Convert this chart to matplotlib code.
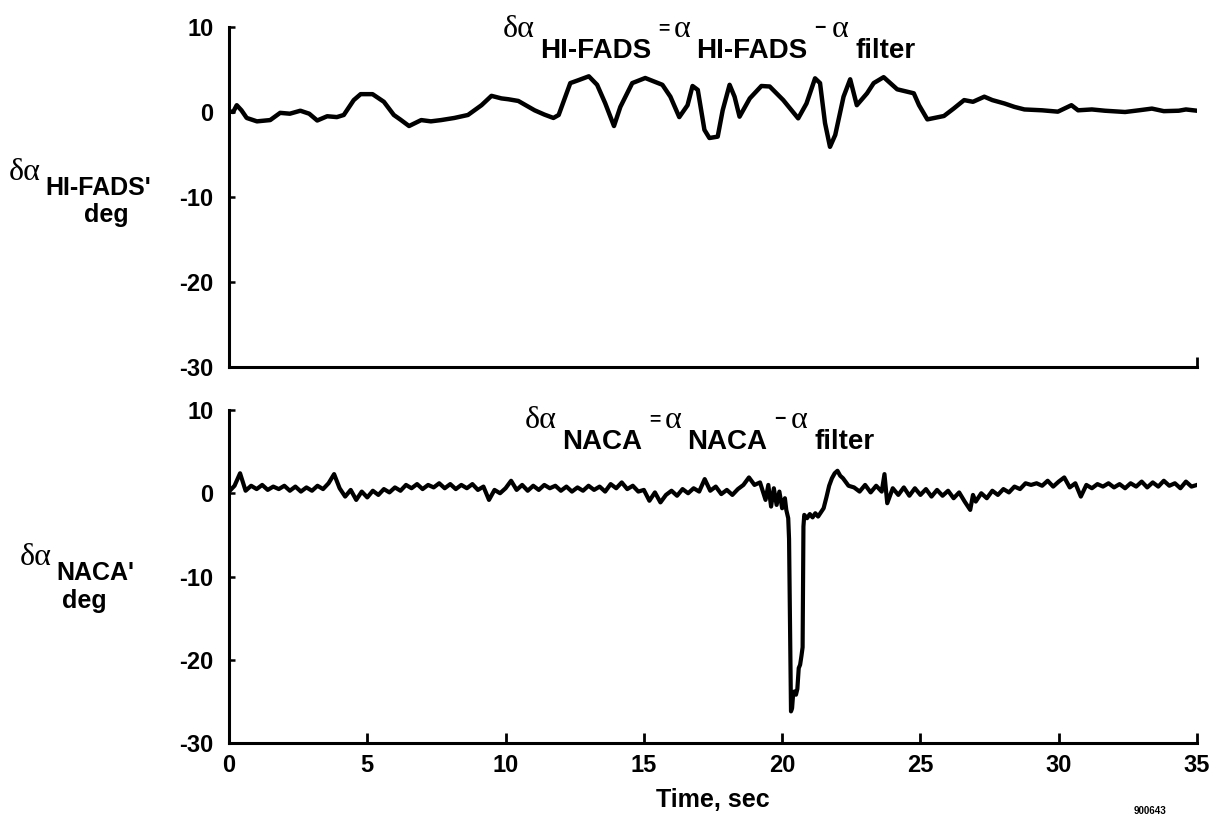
import matplotlib

matplotlib.use('Agg')

import matplotlib.pyplot as plt

# HI-FADS residual
t_fads = [0.0, 0.15, 0.28, 0.45, 0.64, 1.01, 1.49, 1.85, 2.2, 2.58, 2.9, 3.19, 3.55, 3.9, 4.15,
          4.51, 4.76, 5.19, 5.6, 5.96, 6.2, 6.51, 6.95, 7.3, 7.67, 8.15, 8.64, 9.13, 9.49, 9.85,
          10.1, 10.46, 11.05, 11.4, 11.73, 11.92, 12.34, 12.64, 13.01, 13.31, 13.6, 13.92, 14.15,
          14.58, 15.05, 15.67, 15.96, 16.28, 16.58, 16.76, 16.95, 17.19, 17.37, 17.67, 17.85,
          18.1, 18.28, 18.46, 18.83, 19.25, 19.55, 20.04, 20.58, 20.88, 21.19, 21.37, 21.55,
          21.73, 21.92, 22.22, 22.46, 22.7, 23.07, 23.31, 23.67, 24.16, 24.76, 24.95, 25.25,
          25.85, 26.2, 26.58, 26.9, 27.31, 27.6, 28.04, 28.4, 28.76, 29.4, 29.97, 30.46, 30.7,
          31.2, 31.67, 32.4, 32.9, 33.37, 33.8, 34.34, 34.6, 35.0]
v_fads = [0.1, 0.0, 0.8, 0.2, -0.7, -1.1, -0.95, -0.1, -0.2, 0.15, -0.2, -1.0, -0.5, -0.6, -0.35,
          1.4, 2.1, 2.1, 1.2, -0.35, -0.9, -1.65, -0.95, -1.1, -0.95, -0.7, -0.35, 0.8, 1.9, 1.6,
          1.5, 1.3, 0.2, -0.3, -0.7, -0.35, 3.4, 3.75, 4.2, 3.2, 1.05, -1.65, 0.6,
          3.4, 4.0, 3.2, 1.8, -0.6, 0.8, 3.06, 2.6, -2.1, -3.06, -2.9, 0.2,
          3.2, 1.8, -0.55, 1.6, 3.06, 3.0, 1.4, -0.75, 1.0, 3.96, 3.4, -1.3,
          -4.1, -2.7, 1.8, 3.85, 0.8, 2.2, 3.4, 4.1, 2.67, 2.2, 0.8, -0.87,
          -0.47, 0.4, 1.4, 1.2, 1.8, 1.4, 1.0, 0.6, 0.3, 0.2, 0.04, 0.8, 0.2,
          0.3, 0.15, 0.0, 0.2, 0.4, 0.1, 0.15, 0.3, 0.15]

# NACA residual
t_naca = [0.0, 0.2, 0.4, 0.6, 0.8, 1.0, 1.2, 1.4, 1.6, 1.8,
          2.0, 2.2, 2.4, 2.6, 2.8, 3.0, 3.2, 3.4, 3.6, 3.8,
          4.0, 4.2, 4.4, 4.6, 4.8, 5.0, 5.2, 5.4, 5.6, 5.8,
          6.0, 6.2, 6.4, 6.6, 6.8, 7.0, 7.2, 7.4, 7.6, 7.8,
          8.0, 8.2, 8.4, 8.6, 8.8, 9.0, 9.2, 9.4, 9.6, 9.8,
          10.0, 10.2, 10.4, 10.6, 10.8, 11.0, 11.2, 11.4, 11.6, 11.8,
          12.0, 12.2, 12.4, 12.6, 12.8, 13.0, 13.2, 13.4, 13.6, 13.8,
          14.0, 14.2, 14.4, 14.6, 14.8, 15.0, 15.2, 15.4, 15.6, 15.8,
          16.0, 16.2, 16.4, 16.6, 16.8, 17.0, 17.2, 17.4, 17.6, 17.8,
          18.0, 18.2, 18.4, 18.6, 18.8, 19.0, 19.2, 19.4, 19.5, 19.6, 19.7, 19.8, 19.9, 20.0,
          20.1, 20.15, 20.22, 20.25, 20.28, 20.32, 20.36, 20.4, 20.45, 20.5, 20.55, 20.6,
          20.65, 20.7, 20.74, 20.77, 20.8, 20.9, 21.0, 21.1, 21.2, 21.3, 21.4, 21.5, 21.6,
          21.7, 21.8, 21.9, 22.0, 22.1, 22.2, 22.4, 22.6,
          22.8, 23.0, 23.2, 23.4, 23.6, 23.7, 23.8, 24.0,
          24.2, 24.4, 24.6, 24.8, 25.0, 25.2, 25.4, 25.6, 25.8, 26.0,
          26.2, 26.4, 26.6, 26.8, 26.9, 27.0, 27.2, 27.4, 27.6, 27.8,
          28.0, 28.2, 28.4, 28.6, 28.8, 29.0, 29.2, 29.4, 29.6, 29.8,
          30.0, 30.2, 30.4, 30.6, 30.8, 31.0, 31.2, 31.4, 31.6, 31.8,
          32.0, 32.2, 32.4, 32.6, 32.8, 33.0, 33.2, 33.4, 33.6, 33.8,
          34.0, 34.2, 34.4, 34.6, 34.8, 35.0]
v_naca = [0.2, 0.9, 2.4, 0.3, 0.9, 0.5, 1.0, 0.4, 0.8, 0.5,
          0.9, 0.3, 0.8, 0.2, 0.7, 0.3, 0.9, 0.5, 1.2, 2.3,
          0.6, -0.4, 0.4, -0.8, 0.2, -0.5, 0.3, -0.2, 0.5, 0.1,
          0.7, 0.3, 1.0, 0.6, 1.1, 0.5, 1.0, 0.7, 1.2, 0.6,
          1.1, 0.5, 1.0, 0.6, 1.1, 0.4, 0.8, -0.8, 0.4, 0.0,
          0.6, 1.5, 0.4, 1.0, 0.3, 0.9, 0.4, 1.0, 0.6, 0.9,
          0.3, 0.8, 0.2, 0.7, 0.3, 0.9, 0.4, 0.8, 0.2, 1.1,
          0.6, 1.3, 0.5, 0.9, 0.2, 0.4, -0.9, 0.1, -1.1, -0.2,
          0.3, -0.3, 0.5, 0.0, 0.6, 0.2, 1.7, 0.3, 0.8, -0.1,
          0.4, -0.2, 0.5, 1.0, 1.9, 1.0, 1.3, -0.8, 1.0, -1.6, 0.6, -1.4, 0.2, -1.8,
          -0.6, -2.0, -3.0, -5.5, -14.0, -26.2, -25.8, -24.0, -23.8, -24.2, -23.5, -21.0,
          -20.6, -19.5, -18.5, -4.0, -2.6, -3.0, -2.5, -2.9, -2.4, -2.8, -2.3, -1.8, -0.5,
          0.9, 1.8, 2.4, 2.7, 2.1, 1.8, 0.9, 0.7,
          0.2, 1.0, 0.1, 0.9, 0.2, 2.3, -1.2, 0.6,
          -0.2, 0.7, -0.3, 0.6, -0.2, 0.5, -0.4, 0.4, -0.3, 0.3,
          -0.6, 0.1, -1.0, -2.0, -0.2, -1.0, 0.0, -0.6, 0.3, -0.2,
          0.5, 0.1, 0.8, 0.5, 1.2, 1.0, 1.2, 0.9, 1.5, 0.8,
          1.4, 1.9, 0.7, 1.2, -0.4, 1.0, 0.6, 1.1, 0.8, 1.2,
          0.7, 1.1, 0.6, 1.2, 0.8, 1.4, 0.7, 1.3, 0.8, 1.5,
          0.9, 1.2, 0.6, 1.4, 0.8, 1.0]

x_ticks = [0, 5, 10, 15, 20, 25, 30, 35]
y_ticks = [10, 0, -10, -20, -30]

W, H = 1214, 818
SANS = 'Liberation Sans'
GREEK = 'Liberation Serif'

plt.rcParams['axes.unicode_minus'] = False
plt.rcParams['font.family'] = [SANS, 'DejaVu Sans']
plt.rcParams['font.weight'] = 'bold'

fig = plt.figure(figsize=(W / 100, H / 100), dpi=100)


def px(x, y):
    return x / W, 1 - y / H


def style(ax, xt):
    for s in ['top', 'right']:
        ax.spines[s].set_visible(False)
    for s in ['left', 'bottom']:
        ax.spines[s].set_linewidth(2.2)
    ax.set_xlim(0, 35)
    ax.set_ylim(-30, 10)
    ax.set_yticks(y_ticks)
    ax.set_xticks(xt)
    ax.tick_params(axis='y', direction='in', length=4, width=1.8, pad=11, labelsize=17)
    ax.tick_params(axis='x', direction='in', length=7, width=2, pad=8, labelsize=17)
    for lab in ax.get_yticklabels() + ax.get_xticklabels():
        lab.set_fontweight('bold')


def eq(ax, x0, y0, pieces):
    # pieces: text, size, greek?, gap (pt), baseline shift (pt)
    prev = None
    for s, size, greek, dx, dy in pieces:
        kw = dict(fontsize=size, va='baseline', ha='left', annotation_clip=False,
                  textcoords='offset points', xytext=(dx, dy))
        if greek:
            kw.update(family=GREEK, weight='normal')
        else:
            kw.update(family=SANS, weight='bold')
        if prev is None:
            prev = ax.annotate(s, xy=(x0, y0), xycoords='figure fraction', **kw)
        else:
            prev = ax.annotate(s, xy=(1, y0), xycoords=(prev, 'figure fraction'), **kw)


ax1 = fig.add_axes([*px(229, 367), 968 / W, 340 / H])
ax2 = fig.add_axes([*px(229, 743), 968 / W, 333 / H])

ax1.plot(t_fads, v_fads, color='black', lw=3.2, solid_joinstyle='round')
ax2.plot(t_naca, v_naca, color='black', lw=3.0, solid_joinstyle='round')

style(ax1, [35])
ax1.set_xticklabels([])
style(ax2, x_ticks)
ax2.set_xlabel('Time, sec', fontsize=18, fontweight='bold', labelpad=8)

g, s, o, sub = 23, 20, 14, -15
eq(ax1, *px(503, 37), [('δα', g, True, 0, 0), ('HI-FADS', s, False, 4, sub),
                       ('=', o, False, 5, 3), ('α', g, True, 3, 0),
                       ('HI-FADS', s, False, 4, sub), ('−', o, False, 5, 3),
                       ('α', g, True, 4, 0), ('filter', s, False, 5, sub)])
eq(ax2, *px(525, 428), [('δα', g, True, 0, 0), ('NACA', s, False, 4, sub),
                        ('=', o, False, 5, 3), ('α', g, True, 3, 0),
                        ('NACA', s, False, 4, sub), ('−', o, False, 5, 3),
                        ('α', g, True, 4, 0), ('filter', s, False, 5, sub)])

# y axis labels
eq(ax1, *px(9, 180), [('δα', g, True, 0, 0), ("HI-FADS'", 18, False, 3, -11)])
fig.text(*px(106, 222), 'deg', fontsize=18, fontweight='bold', ha='center', va='baseline')
eq(ax2, *px(20, 565), [('δα', g, True, 0, 0), ("NACA'", 18, False, 3, -11)])
fig.text(*px(62, 608), 'deg', fontsize=18, fontweight='bold', ha='left', va='baseline')

fig.text(*px(1150, 814), '900643', fontsize=7, fontweight='bold', ha='center', va='baseline')

fig.savefig('out.png', dpi=100)
